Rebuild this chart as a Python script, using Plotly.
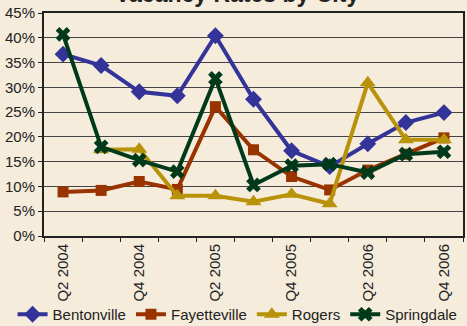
import plotly.graph_objects as go

quarters = ["Q2 2004", "Q3 2004", "Q4 2004", "Q1 2005", "Q2 2005", "Q3 2005",
            "Q4 2005", "Q1 2006", "Q2 2006", "Q3 2006", "Q4 2006"]
bentonville = [36.7, 34.4, 29.1, 28.3, 40.4, 27.6, 17.2, 14.0, 18.6, 22.9, 24.9]
fayetteville = [8.9, 9.2, 11.0, 9.4, 26.1, 17.4, 12.0, 9.3, 13.3, 16.5, 19.8]
rogers = [None, 17.4, 17.5, 8.1, 8.1, 6.9, 8.4, 6.5, 30.9, 19.4, 19.4]
springdale = [40.7, 18.0, 15.3, 13.0, 31.8, 10.3, 14.2, 14.5, 12.8, 16.5, 17.0]

x = list(range(len(quarters)))
label_idx = x[::2]

series = [
    ("Bentonville", bentonville, "#333399", "diamond", 13),
    ("Fayetteville", fayetteville, "#993300", "square", 11),
    ("Rogers", rogers, "#B8930A", "triangle-up", 14),
    ("Springdale", springdale, "#003A1A", "x", 13),
]

fig = go.Figure()
for name, vals, color, sym, size in series:
    fig.add_trace(go.Scatter(
        x=x, y=vals, name=name, mode="lines+markers",
        line=dict(color=color, width=4),
        marker=dict(symbol=sym, size=size, color=color, line=dict(width=0)),
        connectgaps=False,
    ))

font = dict(family="Liberation Sans, Arial, sans-serif", size=15, color="#222222")

fig.update_layout(
    width=467, height=326,
    margin=dict(l=44, r=4, t=13, b=90, autoexpand=False),
    paper_bgcolor="#F5ECDC",
    plot_bgcolor="#F5ECDC",
    font=font,
    showlegend=True,
    legend=dict(orientation="h", x=-0.075, xanchor="left", y=-0.352, yanchor="middle",
                bgcolor="rgba(0,0,0,0)", font=dict(size=15), itemwidth=30,
                tracegroupgap=0),
)

# Chart title sits above the plot frame
fig.add_annotation(
    text="<b>Vacancy Rates by City</b>", xref="paper", yref="paper",
    x=0.46, y=1.084, xanchor="center", yanchor="middle", showarrow=False,
    font=dict(family="Liberation Sans, Arial, sans-serif", size=23, color="#222222"),
)

fig.update_xaxes(
    range=[-0.5, len(quarters) - 0.5],
    tickmode="array", tickvals=label_idx, ticktext=[quarters[i] for i in label_idx],
    tickangle=-90, ticks="", showgrid=False, zeroline=False,
    showline=True, linecolor="#222222", linewidth=2, mirror=True,
    minor=dict(tickmode="array", tickvals=[i - 0.5 for i in range(len(quarters) + 1)],
               ticks="outside", ticklen=4, tickcolor="#222222", showgrid=False),
    tickfont=dict(size=15),
)
fig.update_yaxes(
    range=[0, 45], dtick=5, ticksuffix="%",
    ticks="outside", ticklen=4, tickcolor="#222222",
    showgrid=True, gridcolor="#444444", gridwidth=1, zeroline=False,
    showline=True, linecolor="#222222", linewidth=2, mirror=True,
    tickfont=dict(size=15),
)

fig.write_html("out.html")
